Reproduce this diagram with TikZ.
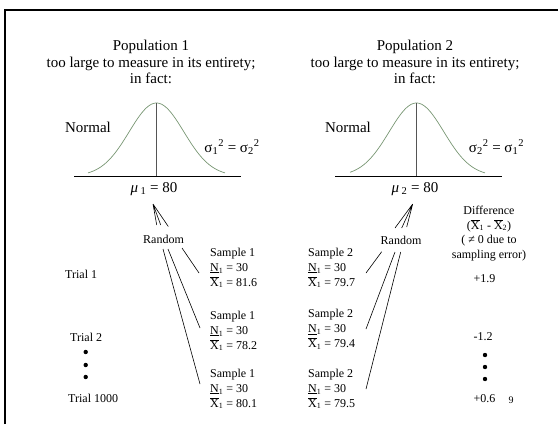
\documentclass[tikz,border=0pt]{standalone}
\usepackage{fontspec}
\setmainfont{Liberation Serif}
\definecolor{curvegreen}{RGB}{120,150,115}
\definecolor{vgray}{RGB}{85,85,85}
\begin{document}
\begin{tikzpicture}[x=1pt,y=-1pt,
  big/.style={font=\fontsize{15}{16.5}\selectfont, inner sep=0pt},
  small/.style={font=\fontsize{12}{14.8}\selectfont, inner sep=0pt},
  tiny/.style={font=\fontsize{10}{12}\selectfont, inner sep=0pt},
  sampleblk/.style={small, align=left, anchor=west},
  trial/.style={small, anchor=west},
  link/.style={line width=0.6pt},
  bell/.style={color=curvegreen, line width=0.7pt},
  meanline/.style={color=vgray, line width=1pt},
  axis/.style={line width=0.9pt},
  bigdot/.style={circle, fill=black, inner sep=0pt, minimum size=4.4pt}
]
\useasboundingbox (0,0) rectangle (559,424);
\draw[line width=2.5pt] (5,424) -- (5,10) -- (558,10);

% Population headings
\node[big, align=center] (pop1) at (151,62) {Population 1\\too large to measure in its entirety;\\in fact:};
\node[big, align=center] (pop2) at (415,62) {Population 2\\too large to measure in its entirety;\\in fact:};

% Curves
\draw[bell] plot[domain=88:225, samples=90] (\x, {176 - 73*exp(-((\x-156.5)/27.3)^2/2)});
\draw[meanline] (156.5,103) -- (156.5,176);
\draw[axis] (74,176) -- (241,176);

\draw[bell] plot[domain=350:485, samples=90] (\x, {176 - 73*exp(-((\x-416.5)/27.3)^2/2)});
\draw[meanline] (416.5,103) -- (416.5,176);
\draw[axis] (335,176) -- (502,176);

\node[big] (norm1) at (88,127) {Normal};
\node[big] (norm2) at (348,127) {Normal};
\node[big] (sig1) at (232,147) {σ\textsubscript{1}\textsuperscript{2} = σ\textsubscript{2}\textsuperscript{2}};
\node[big] (sig2) at (496.5,147) {σ\textsubscript{2}\textsuperscript{2} = σ\textsubscript{1}\textsuperscript{2}};
\node[big] (mu1) at (154,189) {\textit{μ}\,\textsubscript{1} = 80};
\node[big] (mu2) at (415,189) {\textit{μ}\,\textsubscript{2} = 80};

% Random labels
\node[small] (rnd1) at (163.5,239) {Random};
\node[small] (rnd2) at (401,240) {Random};

% connectors mu -> Random
\coordinate (m1) at (153,204);
\coordinate (r1a) at (156.7,225);
\coordinate (r1b) at (160.7,225);
\coordinate (r1c) at (168.3,226.5);
\draw[link] (m1) -- (r1a) (m1) -- (r1b) (m1) -- (r1c);
\coordinate (m2) at (412.7,204);
\coordinate (r2a) at (395,228);
\coordinate (r2b) at (401.7,228);
\coordinate (r2c) at (406.7,227);
\draw[link] (m2) -- (r2a) (m2) -- (r2b) (m2) -- (r2c);

% Samples
\node[sampleblk] (s11) at (210,268) {Sample 1\\\underline{N}\textsubscript{1} = 30\\$\overline{\mbox{X}}$\textsubscript{1} = 81.6};
\node[sampleblk] (s12) at (210,331) {Sample 1\\\underline{N}\textsubscript{1} = 30\\$\overline{\mbox{X}}$\textsubscript{1} = 78.2};
\node[sampleblk] (s13) at (210,389) {Sample 1\\\underline{N}\textsubscript{1} = 30\\$\overline{\mbox{X}}$\textsubscript{1} = 80.1};
\node[sampleblk] (s21) at (308,268) {Sample 2\\\underline{N}\textsubscript{1} = 30\\$\overline{\mbox{X}}$\textsubscript{1} = 79.7};
\node[sampleblk] (s22) at (308,329.5) {Sample 2\\\underline{N}\textsubscript{1} = 30\\$\overline{\mbox{X}}$\textsubscript{1} = 79.4};
\node[sampleblk] (s23) at (308,389) {Sample 2\\\underline{N}\textsubscript{1} = 30\\$\overline{\mbox{X}}$\textsubscript{1} = 79.5};

% connectors Random -> samples
\coordinate (a1) at (163,249);
\coordinate (a2) at (168,249);
\coordinate (a3) at (182,248);
\coordinate (t11) at (199,273);
\coordinate (t12) at (200,328);
\coordinate (t13) at (200,384);
\draw[link] (a1) -- (t13) (a2) -- (t12) (a3) -- (t11);
\coordinate (b1) at (381.7,251.7);
\coordinate (b2) at (395,252);
\coordinate (b3) at (400.7,252);
\coordinate (t21) at (366,273);
\coordinate (t22) at (366,329);
\coordinate (t23) at (366,389);
\draw[link] (b1) -- (t21) (b2) -- (t22) (b3) -- (t23);

% Trials
\node[trial] (tr1) at (65,274) {Trial 1};
\node[trial] (tr2) at (70,337) {Trial 2};
\node[trial] (tr3) at (68,398) {Trial 1000};
\node[bigdot] (ld1) at (85.7,352) {};
\node[bigdot] (ld2) at (85.7,365) {};
\node[bigdot] (ld3) at (85.7,377) {};

% Difference column
\node[small, align=center, font=\fontsize{12}{14.6}\selectfont] (diff) at (489,233.5) {Difference\\($\overline{\mbox{X}}$\textsubscript{1} - $\overline{\mbox{X}}$\textsubscript{2})\\( ≠ 0 due to\\sampling error)};
\node[small] (d1) at (484.5,279) {+1.9};
\node[small] (d2) at (483,337) {-1.2};
\node[bigdot] (rd1) at (485,355) {};
\node[bigdot] (rd2) at (485,367) {};
\node[bigdot] (rd3) at (485,379) {};
\node[small] (d3) at (484.5,399) {+0.6};
\node[tiny] (pg) at (511,400) {9};
\end{tikzpicture}
\end{document}
